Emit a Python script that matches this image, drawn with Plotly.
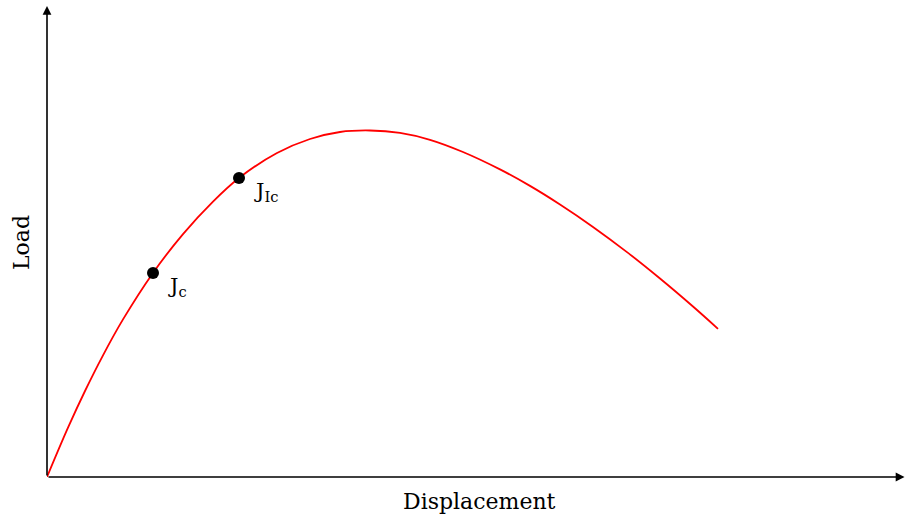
import plotly.graph_objects as go

# Curve samples (arbitrary units)
disp = [0.0, 0.21, 0.38, 0.56, 0.76, 1.06, 1.36, 1.66, 1.92, 2.30, 2.63, 2.93,
        3.23, 3.53, 3.83, 4.16, 4.53, 4.83, 5.13, 5.46, 5.80, 6.13, 6.46, 6.71]
load = [0.0, 0.493, 0.860, 1.217, 1.576, 2.041, 2.429, 2.754, 2.99, 3.24, 3.38, 3.45,
        3.465, 3.441, 3.372, 3.250, 3.076, 2.911, 2.725, 2.501, 2.249, 1.985, 1.705, 1.482]

# Marked points
mark_disp = [1.06, 1.92]
mark_load = [2.041, 2.99]
mark_labels = ["J<sub>c</sub>", "J<sub>Ic</sub>"]

x_label = "Displacement"
y_label = "Load"

FONT = "DejaVu Serif"

fig = go.Figure()
fig.add_trace(go.Scatter(x=disp, y=load, mode="lines",
                         line=dict(color="#ff0000", width=1.8, shape="spline", smoothing=1.0),
                         hoverinfo="skip", cliponaxis=False))
fig.add_trace(go.Scatter(x=mark_disp, y=mark_load, mode="markers",
                         marker=dict(color="black", size=12),
                         hoverinfo="skip", cliponaxis=False))

annotations = []
for xv, yv, lab in zip(mark_disp, mark_load, mark_labels):
    annotations.append(dict(x=xv, y=yv, xref="x", yref="y", text=lab, showarrow=False,
                            xanchor="left", yanchor="top", xshift=13, yshift=1,
                            font=dict(family=FONT, size=21, color="black")))

# axes with arrows
annotations.append(dict(x=8.575, y=0, xref="x", yref="y", ax=0, ay=0, axref="x", ayref="y",
                        text="", showarrow=True, arrowhead=2, arrowsize=1.1, arrowwidth=1.6,
                        arrowcolor="black"))
annotations.append(dict(x=0, y=4.71, xref="x", yref="y", ax=0, ay=0, axref="x", ayref="y",
                        text="", showarrow=True, arrowhead=2, arrowsize=1.1, arrowwidth=1.6,
                        arrowcolor="black"))

annotations.append(dict(x=0.503, y=-0.0524, xref="paper", yref="paper", text=x_label,
                        showarrow=False, xanchor="center", yanchor="middle",
                        font=dict(family=FONT, size=22, color="black")))
annotations.append(dict(x=-0.0291, y=0.4906, xref="paper", yref="paper", text=y_label,
                        showarrow=False, xanchor="center", yanchor="middle", textangle=-90,
                        font=dict(family=FONT, size=22, color="black")))

fig.update_layout(
    width=906, height=522,
    margin=dict(l=47, r=0, t=0, b=45),
    paper_bgcolor="white", plot_bgcolor="white",
    showlegend=False,
    xaxis=dict(range=[0, 8.59], visible=False, fixedrange=True),
    yaxis=dict(range=[0, 4.77], visible=False, fixedrange=True),
    annotations=annotations,
)

fig.write_html("out.html", config={"displayModeBar": False})
